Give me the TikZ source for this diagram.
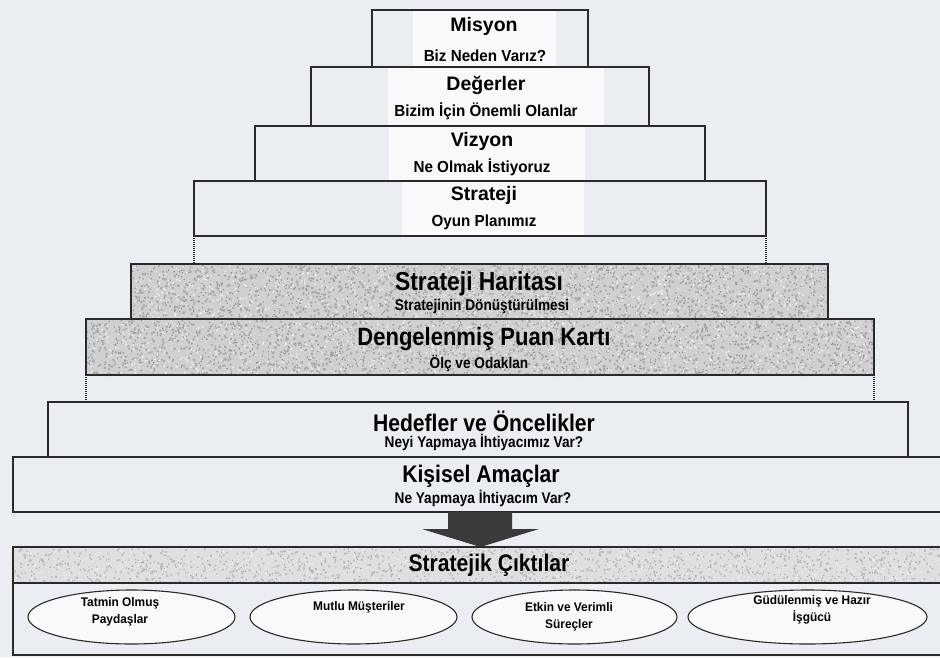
\documentclass[tikz,border=0pt]{standalone}
\usepackage{fontspec}
\setmainfont{Liberation Sans}
\newfontfamily\narrowfont[FakeStretch=0.88]{Liberation Sans}
\newfontfamily\subfont[FakeStretch=0.95]{Liberation Sans}
\usetikzlibrary{shapes.geometric}

\definecolor{paper}{HTML}{EAEEF2}
\definecolor{patch}{HTML}{F8F9FA}
\definecolor{edge}{HTML}{2A2A2A}
\definecolor{greybase}{HTML}{D0D0D0}
\definecolor{greydark}{HTML}{979797}
\definecolor{greylight}{HTML}{EBEBEB}
\definecolor{bandbase}{HTML}{DEDFE0}
\definecolor{arrowfill}{HTML}{3A3A3A}

% scatter n small specks of size s over the rectangle (x1,y1)-(x2,y2)
\newcommand{\specks}[7]{%
  \fill[#6] \foreach \k in {1,...,#5}{ ({#1+rnd*(#3-#1)},{#2+rnd*(#4-#2)}) rectangle ++(#7,#7) };%
}

\begin{document}
\begin{tikzpicture}[x=1pt,y=-1pt,
  tier/.style={draw=edge, line width=1.4pt},
  shaded/.style={draw=edge, line width=1.4pt, fill=greybase},
  band/.style={draw=edge, line width=1.4pt, fill=bandbase},
  stub/.style={draw=edge, line width=1.2pt, dash pattern=on 1pt off 1pt},
  goal/.style={ellipse, draw=edge, line width=1.1pt, fill=patch,
    minimum height=54pt, inner sep=0pt},
  toptitle/.style={inner sep=0pt, font=\bfseries\fontsize{19.5}{22}\selectfont},
  topsub/.style={inner sep=0pt, font=\subfont\bfseries\fontsize{16}{18}\selectfont},
  bigtitle/.style={inner sep=0pt, font=\narrowfont\bfseries\fontsize{24}{26}\selectfont},
  lowsub/.style={inner sep=0pt, font=\narrowfont\bfseries\fontsize{15.5}{17}\selectfont},
  goaltext/.style={inner sep=0pt, align=center,
    font=\subfont\bfseries\fontsize{12.5}{17}\selectfont}]
\pgfmathsetseed{4211}
\useasboundingbox (0,0) rectangle (940,657);
\clip (0,0) rectangle (940,657);
\fill[paper] (0,0) rectangle (940,657);

% upper tiers with a white patch behind the wording
\fill[patch] (413,11) rectangle (556,66);
\fill[patch] (388,68) rectangle (604,125);
\fill[patch] (389,127) rectangle (585,180);
\fill[patch] (402,182) rectangle (584,235);
\draw[tier] (372,10) rectangle (588,67);
\draw[tier] (311,67) rectangle (649,126);
\draw[tier] (255,126) rectangle (705,181);
\draw[tier] (194,181) rectangle (766,236);
\draw[stub] (194,236) -- (194,264);
\draw[stub] (766,236) -- (766,264);

% stippled tiers
\draw[shaded] (131,264) rectangle (828,319);
\specks{132}{265}{826}{318}{1500}{greydark}{1.3}
\specks{132}{265}{826}{318}{500}{greydark!80}{2.2}
\specks{132}{265}{826}{318}{700}{greylight}{1.6}
\draw[tier] (131,264) rectangle (828,319);
\draw[shaded] (86,319) rectangle (874,375);
\specks{87}{320}{872}{374}{1700}{greydark}{1.3}
\specks{87}{320}{872}{374}{550}{greydark!80}{2.2}
\specks{87}{320}{872}{374}{800}{greylight}{1.6}
\draw[tier] (86,319) rectangle (874,375);
\draw[stub] (86,375) -- (86,402);
\draw[stub] (874,375) -- (874,402);

% lower tiers
\draw[tier] (48,402) rectangle (908,457);
\draw[tier] (13,457) rectangle (947,512);

% arrow down to the outcomes
\fill[arrowfill] (448,512) -- (512,512) -- (512,529) -- (539,529)
  -- (480.5,547) -- (422,529) -- (448,529) -- cycle;

% outcomes band and row
\draw[band] (13,547) rectangle (947,583);
\specks{14}{548}{940}{582}{1000}{greydark!80}{1.3}
\specks{14}{548}{940}{582}{300}{greydark!60}{2.2}
\specks{14}{548}{940}{582}{500}{greylight}{1.6}
\draw[tier] (13,547) rectangle (947,583);
\draw[tier] (13,583) rectangle (947,655);

\node[goal, minimum width=207pt] (g1) at (131.5,617) {};
\node[goal, minimum width=207pt] (g2) at (353.5,617) {};
\node[goal, minimum width=205pt] (g3) at (574.5,617) {};
\node[goal, minimum width=239pt] (g4) at (807.5,617) {};

% wording
\node[toptitle] (t1) at (484,26) {Misyon};
\node[topsub] (s1) at (485,56) {Biz Neden Varız?};
\node[toptitle] (t2) at (486,85) {Değerler};
\node[topsub] (s2) at (486,111) {Bizim İçin Önemli Olanlar};
\node[toptitle] (t3) at (482,141) {Vizyon};
\node[topsub] (s3) at (482,167) {Ne Olmak İstiyoruz};
\node[toptitle] (t4) at (484,195) {Strateji};
\node[topsub] (s4) at (484,222) {Oyun Planımız};
\node[bigtitle, font=\narrowfont\bfseries\fontsize{26}{28}\selectfont] (t5) at (479,284) {Strateji Haritası};
\node[lowsub] (s5) at (482,306) {Stratejinin Dönüştürülmesi};
\node[bigtitle, font=\narrowfont\bfseries\fontsize{25}{27}\selectfont] (t6) at (484,339) {Dengelenmiş Puan Kartı};
\node[lowsub] (s6) at (479,363) {Ölç ve Odaklan};
\node[bigtitle] (t7) at (484,421) {Hedefler ve Öncelikler};
\node[lowsub] (s7) at (484,442) {Neyi Yapmaya İhtiyacımız Var?};
\node[bigtitle] (t8) at (481,476) {Kişisel Amaçlar};
\node[lowsub] (s8) at (483,498) {Ne Yapmaya İhtiyacım Var?};
\node[bigtitle] (t9) at (489,565) {Stratejik Çıktılar};

\node[goaltext] (w1) at (120,612) {Tatmin Olmuş\\Paydaşlar};
\node[goaltext] (w2) at (359,607) {Mutlu Müşteriler};
\node[goaltext] (w3) at (569,617) {Etkin ve Verimli\\Süreçler};
\node[goaltext] (w4) at (812,610) {Güdülenmiş ve Hazır\\İşgücü};
\end{tikzpicture}
\end{document}
